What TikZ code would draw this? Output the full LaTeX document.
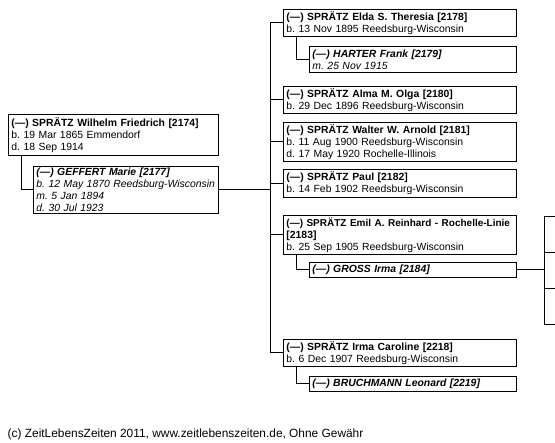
\documentclass[tikz,border=0pt]{standalone}
\usepackage{fontspec}
\setmainfont{Liberation Sans}

\begin{document}
\begin{tikzpicture}[x=1pt,y=-1pt,
  box/.style={draw,line width=0.9pt,anchor=north west,inner xsep=3pt,inner ysep=0.3pt,
    align=left,font=\fontsize{10.4}{12}\selectfont\frenchspacing},
  kid/.style={box,text width=227pt},
  partner/.style={box,text width=201pt,font=\fontsize{10.4}{12}\selectfont\frenchspacing\itshape}]
\useasboundingbox (0,0) rectangle (555,443);
\clip (0,0) rectangle (555,443);
\node[box,text width=204pt,minimum height=41pt] (WILHELM) at (8,114) {\textbf{(---) SPRÄTZ Wilhelm Friedrich [2174]}\\b. 19 Mar 1865 Emmendorf\\d. 18 Sep 1914};
\node[partner,text width=179pt,minimum height=47pt] (MARIE) at (33,166) {\textbf{(---) GEFFERT Marie [2177]}\\\mbox{b. 12 May 1870 Reedsburg-Wisconsin}\\m. 5 Jan 1894\\d. 30 Jul 1923};
\node[kid,minimum height=27pt] (ELDA) at (283,9) {\textbf{(---) SPRÄTZ Elda S. Theresia [2178]}\\b. 13 Nov 1895 Reedsburg-Wisconsin};
\node[partner,minimum height=26pt] (HARTER) at (309,46) {\textbf{(---) HARTER Frank [2179]}\\m. 25 Nov 1915};
\node[kid,minimum height=27pt] (ALMA) at (283,86) {\textbf{(---) SPRÄTZ Alma M. Olga [2180]}\\b. 29 Dec 1896 Reedsburg-Wisconsin};
\node[kid,minimum height=39pt] (WALTER) at (283,122) {\textbf{(---) SPRÄTZ Walter W. Arnold [2181]}\\b. 11 Aug 1900 Reedsburg-Wisconsin\\d. 17 May 1920 Rochelle-Illinois};
\node[kid,minimum height=28pt] (PAUL) at (283,169) {\textbf{(---) SPRÄTZ Paul [2182]}\\b. 14 Feb 1902 Reedsburg-Wisconsin};
\node[kid,minimum height=39pt] (EMIL) at (283,215) {\mbox{\fontsize{10}{12}\selectfont\textbf{(---) SPRÄTZ Emil A. Reinhard - Rochelle-Linie}}\\\textbf{[2183]}\\b. 25 Sep 1905 Reedsburg-Wisconsin};
\node[partner,minimum height=15pt] (GROSS) at (309,262) {\textbf{(---) GROSS Irma [2184]}};
\node[kid,minimum height=27pt] (IRMA) at (283,339) {\textbf{(---) SPRÄTZ Irma Caroline [2218]}\\b. 6 Dec 1907 Reedsburg-Wisconsin};
\node[partner,minimum height=15pt] (BRUCHMANN) at (309,376) {\textbf{(---) BRUCHMANN Leonard [2219]}};
\node[anchor=base west,inner sep=0pt,font=\fontsize{11.9}{14}\selectfont] (FOOT) at (7.5,438) {(c) ZeitLebensZeiten 2011, www.zeitlebenszeiten.de, Ohne Gewähr};
\coordinate (SPINE) at (270,0);
\coordinate (FORK) at (544,0);
\coordinate (NEXT1) at (560,216);
\coordinate (NEXT2) at (560,252);
\coordinate (NEXT3) at (560,288);
\coordinate (NEXT4) at (560,324);
\begin{scope}[line width=0.9pt]
\draw ([xshift=13pt]WILHELM.south west) |- (MARIE.west);
\draw (MARIE.east) -- (SPINE |- MARIE.east);
\draw (ELDA.west) -- (SPINE |- ELDA.west) -- (SPINE |- IRMA.west) -- (IRMA.west);
\foreach \k in {ALMA,WALTER,PAUL,EMIL} \draw (\k.west) -- (SPINE |- \k.west);
\draw ([xshift=13pt]ELDA.south west) |- (HARTER.west);
\draw ([xshift=13pt]EMIL.south west) |- (GROSS.west);
\draw ([xshift=13pt]IRMA.south west) |- (BRUCHMANN.west);
\draw (GROSS.east) -- (FORK |- GROSS.east);
\draw (FORK |- NEXT1) -- (FORK |- NEXT4);
\foreach \k in {1,...,4} \draw (FORK |- NEXT\k) -- (NEXT\k);
\end{scope}
\end{tikzpicture}
\end{document}
